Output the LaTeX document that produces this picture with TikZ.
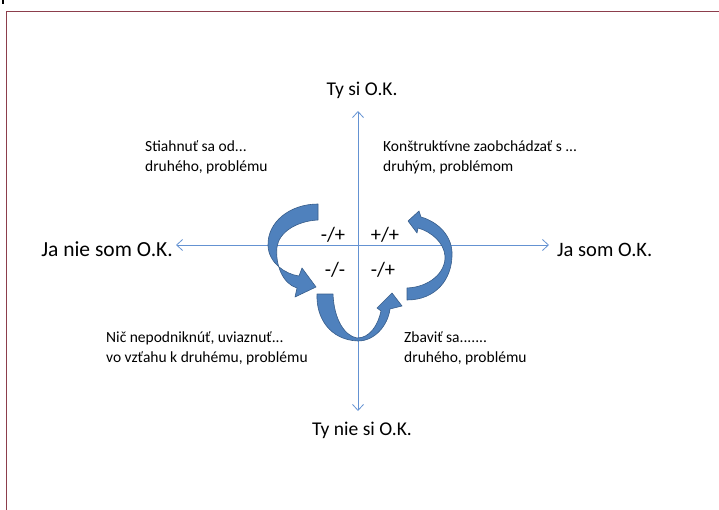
\documentclass[tikz,border=0pt]{standalone}
\usepackage{fontspec}
\setmainfont{Carlito}
\usetikzlibrary{arrows.meta}
\definecolor{framered}{RGB}{140,62,76}
\definecolor{axisblue}{RGB}{100,146,210}
\definecolor{arrowfill}{RGB}{79,129,189}
\definecolor{arrowedge}{RGB}{56,93,138}
\tikzset{
  axis/.style={draw=axisblue, line width=0.9pt, -{Straight Barb[length=6pt,width=11pt,line width=0.8pt]}},
  bigarrow/.style={fill=arrowfill, draw=arrowedge, line width=0.6pt, line join=round},
  axlabel/.style={font=\fontsize{19.5}{23}\selectfont, inner sep=0pt},
  quad/.style={font=\fontsize{20.5}{24}\selectfont, inner sep=0pt},
  note/.style={font=\fontsize{15.5}{20}\selectfont, align=left, inner sep=0pt, anchor=west}
}
\begin{document}
\begin{tikzpicture}[x=1pt,y=-1pt]
\useasboundingbox (0,0) rectangle (719,510);
% frame
\fill[black] (1.5,0.5) rectangle (4,4);
\draw[framered, line width=1pt] (6.5,510) -- (6.5,11.5) -- (719,11.5);
% axes
\coordinate (c) at (358,245);
\coordinate (l) at (176,245);
\coordinate (r) at (549,245);
\coordinate (t) at (358,111);
\coordinate (b) at (358,411);
\draw[axis] (c) -- (l);
\draw[axis] (c) -- (r);
\draw[axis] (c) -- (t);
\draw[axis] (c) -- (b);
% axis labels
\node[axlabel] (ty) at (362,90) {Ty si O.K.};
\node[axlabel, font=\fontsize{21.5}{25}\selectfont, anchor=east] (janie) at (173,249) {Ja nie som O.K.};
\node[axlabel, font=\fontsize{20.5}{24}\selectfont, anchor=west] (ja) at (557,250) {Ja som O.K.};
\node[axlabel] (tynie) at (362,430) {Ty nie si O.K.};
% notes
\node[note] (n1) at (145,157) {Stiahnuť sa od...\\druhého, problému};
\node[note] (n2) at (383,157) {Konštruktívne zaobchádzať s ...\\druhým, problémom};
\node[note] (n3) at (106,348) {Nič nepodniknúť, uviaznuť...\\vo vzťahu k druhému, problému};
\node[note] (n4) at (404,348) {Zbaviť sa.......\\druhého, problému};
% curved arrows
% left arrow
\path[bigarrow] (318,204) .. controls (290,204) and (267,222) .. (268,246)
  .. controls (269,263) and (285,274) .. (299,276)
  -- (302,268) -- (316,287) -- (295,297) -- (297,288)
  .. controls (283,284) and (275,265) .. (277,247)
  .. controls (279,232) and (297,221) .. (318,220) -- cycle;
% bottom arrow
\path[bigarrow] (317,294) .. controls (316,318) and (330,340) .. (358,341)
  .. controls (375,341) and (388,325) .. (390,309)
  -- (402,306) -- (392,293) -- (377,308) -- (381,311)
  .. controls (378,325) and (370,338) .. (357,338)
  .. controls (345,336) and (334,320) .. (333,294) -- cycle;
% right arrow
\path[bigarrow] (407,300) .. controls (435,300) and (453,280) .. (452,252)
  .. controls (451,235) and (438,222) .. (421,217)
  -- (419,211) -- (408,221) -- (417,233) -- (418,228)
  .. controls (432,232) and (444,243) .. (445,256)
  .. controls (446,272) and (430,287) .. (407,288) -- cycle;
% quadrant labels
\node[quad] (q1) at (333,235) {-/+};
\node[quad] (q2) at (385,235) {+/+};
\node[quad] (q3) at (335,270) {-/-};
\node[quad] (q4) at (383,270) {-/+};
\end{tikzpicture}
\end{document}
